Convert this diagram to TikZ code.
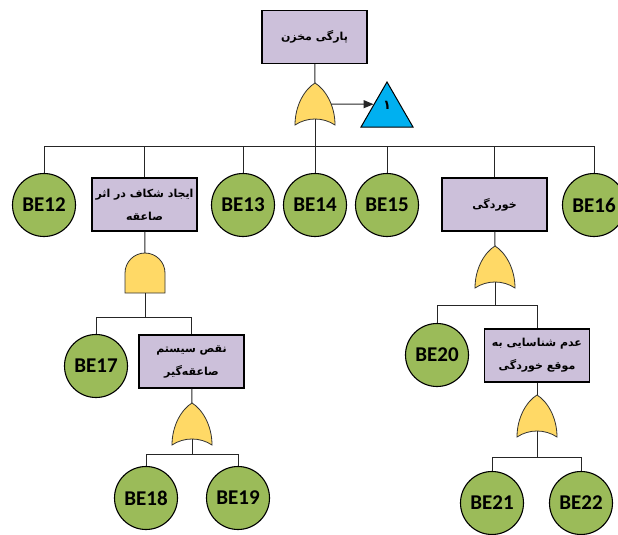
\documentclass[tikz,border=0pt]{standalone}
\usepackage{fontspec}
\setmainfont{Carlito}
\newfontfamily\farsifont[Script=Arabic]{DejaVu Sans}
\TeXXeTstate=1
\usetikzlibrary{shapes.geometric,arrows.meta}
\definecolor{boxfill}{HTML}{CCC0DA}
\definecolor{basicfill}{HTML}{9BBB59}
\definecolor{gatefill}{HTML}{FFD966}
\definecolor{trifill}{HTML}{00B0F0}
\tikzset{
  gate/.style={draw=black!80, fill=gatefill, line width=0.8pt},
  orgate/.pic={
    \path[gate] (0,0) .. controls (10,6) and (20,22) .. (20,42)
      .. controls (8,34) and (-8,34) .. (-20,42)
      .. controls (-20,22) and (-10,6) .. (0,0) -- cycle;
    \coordinate (-top) at (0,0);
    \coordinate (-out) at (0,36);
    \coordinate (-east) at (16,21);
  },
  andgate/.pic={
    \path[gate] (-20,40) -- (-20,20) .. controls (-20,9) and (-11,0) .. (0,0)
      .. controls (11,0) and (20,9) .. (20,20) -- (20,40) -- cycle;
    \coordinate (-top) at (0,0);
    \coordinate (-out) at (0,40);
  }
}
\begin{document}
\begin{tikzpicture}[x=1pt, y=-1pt,
    event/.style={draw, fill=boxfill, line width=1.1pt, minimum width=105pt, minimum height=53pt,
      align=center, font=\farsifont\bfseries\fontsize{11}{23}\selectfont},
    basic/.style={circle, draw, fill=basicfill, line width=1.1pt, minimum size=63pt, inner sep=0pt,
      font=\bfseries\fontsize{21}{21}\selectfont},
    reftri/.style={regular polygon, regular polygon sides=3, minimum size=60pt, inner sep=0pt,
      draw, fill=trifill, line width=1pt},
    link/.style={draw=black!85, line width=1pt}]
    \useasboundingbox (0,0) rectangle (618,535);

    % top event and transfer
    \node[event] (top) at (314.5,37) {\beginR پارگی مخزن\endR};
    \pic (g0) at (315,83) {orgate};
    \node[reftri] (tri) at (387,112) {};
    \node[font=\farsifont\bfseries\fontsize{13}{13}\selectfont] (trinum) at (387,105) {\beginR ۱\endR};
    \coordinate (bus0) at (315,146);

    % first level
    \node[basic] (be12) at (44,205) {BE12};
    \node[event] (ev1) at (144.5,204.5) {\beginR ایجاد شکاف در اثر\endR\\\beginR صاعقه\endR};
    \node[basic] (be13) at (243,205) {BE13};
    \node[basic] (be14) at (315,205) {BE14};
    \node[basic] (be15) at (387,205) {BE15};
    \node[event] (ev2) at (494.5,204.5) {\beginR خوردگی\endR};
    \node[basic] (be16) at (594,205) {BE16};

    % under ev1
    \pic (g1) at (145,253) {andgate};
    \coordinate (bus1) at (145,317);
    \node[basic] (be17) at (96,366) {BE17};
    \node[event] (ev3) at (191.5,361.5) {\beginR نقص سیستم\endR\\\beginR صاعقه‌گیر\endR};
    \pic (g2) at (192,403) {orgate};
    \coordinate (bus2) at (192,454);
    \node[basic] (be18) at (146,498) {BE18};
    \node[basic] (be19) at (238,498) {BE19};

    % under ev2
    \pic (g3) at (495,246) {orgate};
    \coordinate (bus3) at (495,305);
    \node[basic] (be20) at (437,355) {BE20};
    \node[event] (ev4) at (537,355.5) {\beginR عدم شناسایی به\endR\\\beginR موقع خوردگی\endR};
    \pic (g4) at (537,395) {orgate};
    \coordinate (bus4) at (537,457);
    \node[basic] (be21) at (492,503) {BE21};
    \node[basic] (be22) at (581,503) {BE22};

    % connectors
    \draw[link] (top) -- (g0-top);
    \draw[link, -{Triangle[length=10pt,width=8pt]}] (g0-east) -- (tri.side 1);
    \draw[link] (g0-out) -- (bus0);
    \foreach \n in {be12,ev1,be13,be14,be15,ev2,be16}
        \draw[link] (bus0) -| (\n);
    \draw[link] (ev1) -- (g1-top);
    \draw[link] (g1-out) -- (bus1);
    \draw[link] (bus1) -| (be17);
    \draw[link] (bus1) -| (ev3);
    \draw[link] (ev3) -- (g2-top);
    \draw[link] (g2-out) -- (bus2);
    \draw[link] (bus2) -| (be18);
    \draw[link] (bus2) -| (be19);
    \draw[link] (ev2) -- (g3-top);
    \draw[link] (g3-out) -- (bus3);
    \draw[link] (bus3) -| (be20);
    \draw[link] (bus3) -| (ev4);
    \draw[link] (ev4) -- (g4-top);
    \draw[link] (g4-out) -- (bus4);
    \draw[link] (bus4) -| (be21);
    \draw[link] (bus4) -| (be22);
\end{tikzpicture}
\end{document}
